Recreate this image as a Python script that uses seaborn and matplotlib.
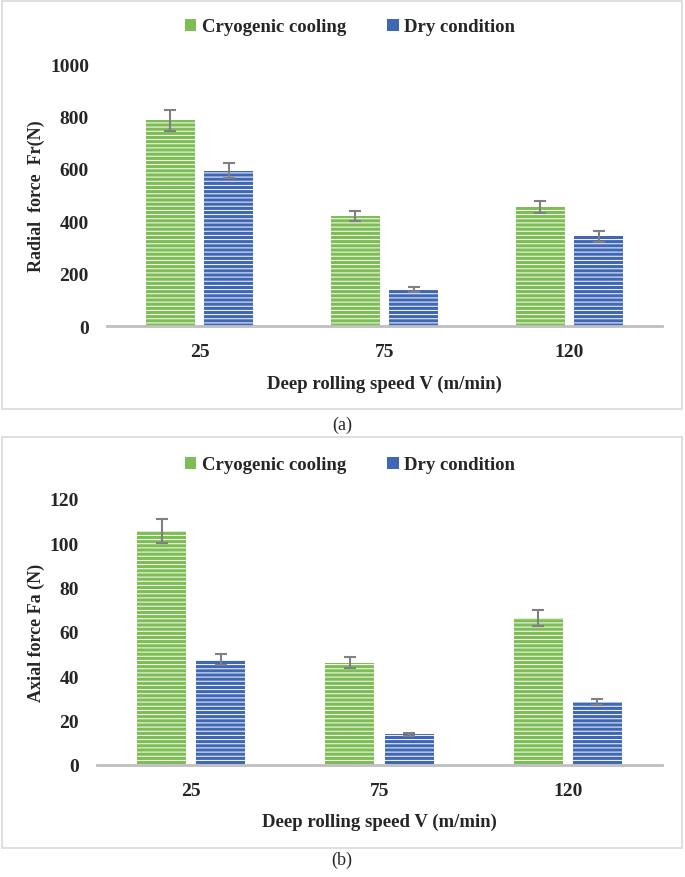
import matplotlib
matplotlib.use("Agg")
import matplotlib.pyplot as plt
import matplotlib.patches as mpatches
import numpy as np
import pandas as pd
import seaborn as sns

speeds = ["25", "75", "120"]
series = ["Cryogenic cooling", "Dry condition"]

radial_cryo = [786, 420, 455]
radial_dry = [593, 139, 342]
radial_cryo_err = [40, 20, 22]
radial_dry_err = [30, 11, 20]

axial_cryo = [105.5, 46.2, 66.3]
axial_dry = [47.5, 13.8, 28.6]
axial_cryo_err = [5.5, 2.5, 3.8]
axial_dry_err = [2.5, 0.7, 1.4]

radial_ticks = [0, 200, 400, 600, 800, 1000]
axial_ticks = [0, 20, 40, 60, 80, 100, 120]

GREEN = "#7dbd53"
BLUE = "#3f67b5"
colors = {series[0]: GREEN, series[1]: BLUE}

sns.set_theme(style="white")
plt.rcParams["font.family"] = ["Liberation Serif", "DejaVu Serif"]
plt.rcParams["hatch.linewidth"] = 0.7

W, H = 685, 878
fig = plt.figure(figsize=(W / 100, H / 100), dpi=100)


def fx(px):
    return px / W


def fy(py):
    return 1 - py / H


def panel(ax_box, cryo, dry, cerr, derr, ticks, ylabel, ymax, leg_y, frame_box, caption, cap_y, xlpad):
    x0, y0, x1, y1 = ax_box
    ax = fig.add_axes([fx(x0), fy(y1), fx(x1) - fx(x0), fy(y0) - fy(y1)])
    df = pd.DataFrame({
        "speed": speeds * 2,
        "cond": [series[0]] * 3 + [series[1]] * 3,
        "val": list(cryo) + list(dry),
    })
    sns.barplot(data=df, x="speed", y="val", hue="cond", order=speeds,
                hue_order=series, palette=colors, width=0.63, gap=0.17,
                errorbar=None, ax=ax, legend=False, saturation=1)
    for cont, err in zip(ax.containers, [cerr, derr]):
        for p in cont.patches:
            p.set_hatch("----")
            p.set_edgecolor("white")
            p.set_linewidth(0)
        xs = [p.get_x() + p.get_width() / 2 for p in cont.patches]
        hs = [p.get_height() for p in cont.patches]
        ax.errorbar(xs, hs, yerr=err, fmt="none", ecolor="#808080",
                    elinewidth=1.5, capsize=4.5, capthick=1.5, zorder=5)
    ax.set_xlim(-0.5, 2.5)
    ax.set_ylim(0, ymax)
    ax.set_yticks(ticks)
    ax.set_yticklabels([str(t) for t in ticks], fontsize=14, fontweight="bold")
    ax.set_xticks(range(len(speeds)))
    ax.set_xticklabels(speeds, fontsize=14, fontweight="bold")
    ax.tick_params(axis="y", length=0, pad=13)
    ax.tick_params(axis="x", length=0, pad=12)
    for s in ["top", "right", "left"]:
        ax.spines[s].set_visible(False)
    ax.spines["bottom"].set_color("#bfbfbf")
    ax.spines["bottom"].set_linewidth(2)
    ax.set_xlabel("Deep rolling speed V (m/min)", fontsize=13.5, fontweight="bold", labelpad=xlpad)
    ax.set_ylabel(ylabel, fontsize=13, fontweight="bold")
    handles = [mpatches.Patch(facecolor=colors[s], edgecolor="none") for s in series]
    fig.legend(handles, series, loc="center", bbox_to_anchor=(fx(350), fy(leg_y)),
               ncol=2, frameon=False, handlelength=0.6, handleheight=0.6,
               handletextpad=0.3, columnspacing=2.2,
               prop={"family": "Liberation Serif", "weight": "bold", "size": 13.5})
    fx0, fy0, fx1, fy1 = frame_box
    rect = mpatches.Rectangle((fx(fx0), fy(fy1)), fx(fx1) - fx(fx0), fy(fy0) - fy(fy1),
                              transform=fig.transFigure, fill=False,
                              edgecolor="#d9d9d9", linewidth=1.2)
    fig.add_artist(rect)
    fig.text(fx(342), fy(cap_y), caption, ha="center", va="center", fontsize=13)
    return ax


axa = panel((107, 65, 662, 327), radial_cryo, radial_dry, radial_cryo_err, radial_dry_err,
            radial_ticks, "Radial  force  Fr(N)", 1000, 28, (2, 2, 682, 410), "(a)", 425, 11)
axb = panel((97, 500, 662, 766), axial_cryo, axial_dry, axial_cryo_err, axial_dry_err,
            axial_ticks, "Axial force Fa (N)", 120, 466, (2, 438, 682, 849), "(b)", 860, 10)

axa.yaxis.set_label_coords(-(107 - 45) / (662 - 107), 0.5)
axb.yaxis.set_label_coords(-(97 - 45) / (662 - 97), 0.5)

fig.savefig("out.png", dpi=100)
